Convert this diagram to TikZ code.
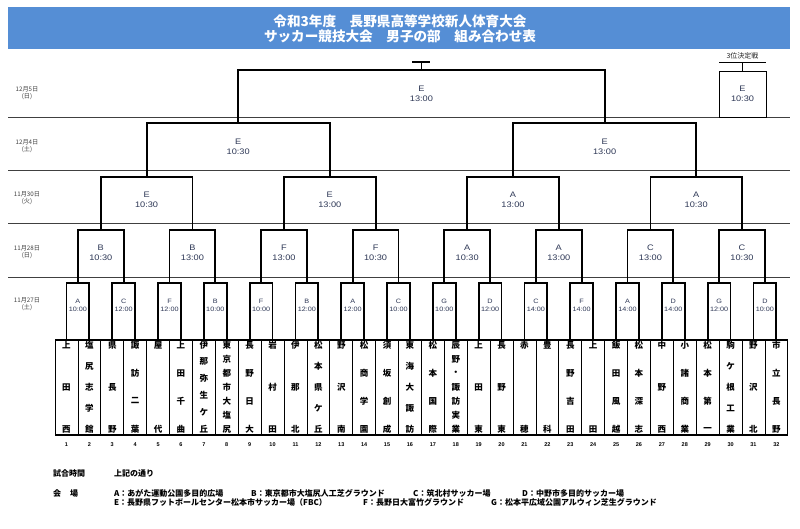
\documentclass[tikz,border=0pt]{standalone}
\usepackage{fontspec}
\setmainfont{Liberation Sans}
\newfontfamily\cjk{Noto Sans CJK JP}
\newfontfamily\lbl{Liberation Sans}[FakeStretch=1.15]
\definecolor{titlebar}{RGB}{85,142,213}
\definecolor{labc}{RGB}{45,55,85}
\tikzset{
  rowline/.style={draw=black!75, line width=0.8pt},
  bracket/.style={draw=black, line width=1.8pt},
  thinline/.style={draw=black, line width=1pt},
  lab/.style={font=\lbl\fontsize{8}{10}\selectfont, text=labc, align=center, inner sep=0pt},
  labs/.style={font=\lbl\fontsize{6.3}{8}\selectfont, text=labc, align=center, inner sep=0pt},
  datel/.style={font=\cjk\fontsize{6.2}{7.2}\selectfont, text=black!75, align=center, inner sep=0pt},
  tname/.style={font=\cjk\bfseries\fontsize{8.5}{9}\selectfont, inner sep=0pt},
  tnum/.style={font=\bfseries\fontsize{5.5}{6}\selectfont, inner sep=0pt},
  foot/.style={font=\cjk\bfseries\fontsize{8}{9}\selectfont, inner sep=0pt, anchor=west},
  thirdbox/.style={draw=black, line width=1pt, minimum width=47pt, minimum height=46pt, lab},
}
\begin{document}
\begin{tikzpicture}[x=1pt,y=-1pt]
\useasboundingbox (0,0) rectangle (800,528);
\fill[white] (0,0) rectangle (800,528);
% title
\fill[titlebar] (8,7) rectangle (790,49);
\node[font=\cjk\bfseries\fontsize{13.6}{15}\selectfont, text=white, align=center, inner sep=0pt] (title) at (400,28.5)
  {令和3年度　長野県高等学校新人体育大会\\サッカー競技大会　男子の部　組み合わせ表};
% row lines
\foreach \yy in {117,170,223,277} { \draw[rowline] (8,\yy) -- (790,\yy); }
% date labels
\node[datel] (d5) at (27,93) {12月5日\\(日)};
\node[datel] (d4) at (27,146.5) {12月4日\\(土)};
\node[datel] (d3) at (27,198) {11月30日\\(火)};
\node[datel] (d2) at (27,252) {11月28日\\(日)};
\node[datel] (d1) at (27,304) {11月27日\\(土)};
% team tops
\foreach \i in {1,...,32} {
  \pgfmathsetmacro\cx{55+(\i-0.5)*22.9}
  \coordinate (t\i) at (\cx,340);
}
% round 1
\foreach \j/\v/\tm in {1/A/10:00,2/C/12:00,3/F/12:00,4/B/10:00,5/F/10:00,6/B/12:00,7/A/12:00,8/C/10:00,
                       9/G/10:00,10/D/12:00,11/C/14:00,12/F/14:00,13/A/14:00,14/D/14:00,15/G/12:00,16/D/10:00} {
  \pgfmathsetmacro\cx{55+(2*\j-1)*22.9}
  \pgfmathtruncatemacro\a{2*\j-1}
  \pgfmathtruncatemacro\b{2*\j}
  \coordinate (m1-\j) at (\cx,283);
  \draw[bracket] (t\a) |- (m1-\j) -| (t\b);
  \node[labs] (l1-\j) at (\cx,305) {\v\\\tm};
}
% round 2
\foreach \j/\v/\tm in {1/B/10:30,2/B/13:00,3/F/13:00,4/F/10:30,5/A/10:30,6/A/13:00,7/C/13:00,8/C/10:30} {
  \pgfmathsetmacro\cx{55+(4*\j-2)*22.9}
  \pgfmathtruncatemacro\a{2*\j-1}
  \pgfmathtruncatemacro\b{2*\j}
  \coordinate (m2-\j) at (\cx,230);
  \draw[bracket] (m1-\a) |- (m2-\j) -| (m1-\b);
  \node[lab] (l2-\j) at (\cx,253) {\v\\\tm};
}
% round 3
\foreach \j/\v/\tm in {1/E/10:30,2/E/13:00,3/A/13:00,4/A/10:30} {
  \pgfmathsetmacro\cx{55+(8*\j-4)*22.9}
  \pgfmathtruncatemacro\a{2*\j-1}
  \pgfmathtruncatemacro\b{2*\j}
  \coordinate (m3-\j) at (\cx,177);
  \draw[bracket] (m2-\a) |- (m3-\j) -| (m2-\b);
  \node[lab] (l3-\j) at (\cx,199.5) {\v\\\tm};
}
% round 4
\foreach \j/\v/\tm in {1/E/10:30,2/E/13:00} {
  \pgfmathsetmacro\cx{55+(16*\j-8)*22.9}
  \pgfmathtruncatemacro\a{2*\j-1}
  \pgfmathtruncatemacro\b{2*\j}
  \coordinate (m4-\j) at (\cx,123);
  \draw[bracket] (m3-\a) |- (m4-\j) -| (m3-\b);
  \node[lab] (l4-\j) at (\cx,147) {\v\\\tm};
}
% final
\coordinate (m5) at (421.4,70);
\draw[bracket] (m4-1) |- (m5) -| (m4-2);
\node[lab] (l5) at (421.4,93.5) {E\\13:00};
\coordinate (win) at (421.4,62);
\draw[bracket] (m5) -- (win);
\draw[bracket] ([xshift=-9pt]win) -- ([xshift=9pt]win);
% third place
\node[thirdbox] (third) at (742.5,94) {E\\10:30};
\coordinate (thirdtop) at (742.5,62);
\draw[thinline] (third.north) -- (thirdtop);
\draw[thinline] (719,62) -- (766,62);
\node[font=\cjk\fontsize{7}{8}\selectfont, text=black!85, inner sep=0pt] (thirdlab) at (742.5,56) {3位決定戦};
% team table
\foreach \k in {1,...,31} {
  \pgfmathsetmacro\cx{55+\k*22.9}
  \draw[black, line width=0.8pt] (\cx,340) -- (\cx,435);
}
\draw[black, line width=0.8pt] (55,340) -- (55,435);
\draw[black, line width=0.8pt] (787.8,340) -- (787.8,435);
\draw[black, line width=1.5pt] (55,340) -- (787.8,340);
\draw[black, line width=1.5pt] (55,435) -- (787.8,435);
% team names
\foreach \i/\n/\nm in {1/3/{上,田,西},2/5/{塩,尻,志,学,館},3/3/{県,長,野},4/4/{諏,訪,二,葉},
  5/2/{屋,代},6/4/{上,田,千,曲},7/6/{伊,那,弥,生,ケ,丘},8/7/{東,京,都,市,大,塩,尻},
  9/4/{長,野,日,大},10/3/{岩,村,田},11/3/{伊,那,北},12/5/{松,本,県,ケ,丘},
  13/3/{野,沢,南},14/4/{松,商,学,園},15/4/{須,坂,創,成},16/5/{東,海,大,諏,訪},
  17/4/{松,本,国,際},18/7/{辰,野,・,諏,訪,実,業},19/3/{上,田,東},20/3/{長,野,東},
  21/2/{赤,穂},22/2/{豊,科},23/4/{長,野,吉,田},24/2/{上,田},
  25/4/{飯,田,風,越},26/4/{松,本,深,志},27/3/{中,野,西},28/4/{小,諸,商,業},
  29/4/{松,本,第,一},30/5/{駒,ケ,根,工,業},31/3/{野,沢,北},32/4/{市,立,長,野}} {
  \pgfmathsetmacro\cx{55+(\i-0.5)*22.9}
  \foreach \ch [count=\k] in \nm {
    \pgfmathsetmacro\yy{345+(\k-1)*84/(\n-1)}
    \node[tname] (n\i-\k) at (\cx,\yy) {\ch};
  }
  \node[tnum] (num\i) at (\cx,445) {\i};
}
% footer
\node[foot] (f1) at (53,473) {試合時間};
\node[foot] (f2) at (114,473) {上記の通り};
\node[foot] (f3) at (53,493) {会\hspace{9pt}場};
\node[foot] (va) at (114,493) {A：あがた運動公園多目的広場};
\node[foot] (vb) at (251,493) {B：東京都市大塩尻人工芝グラウンド};
\node[foot] (vc) at (413,493) {C：筑北村サッカー場};
\node[foot] (vd) at (522,493) {D：中野市多目的サッカー場};
\node[foot] (ve) at (114,502) {E：長野県フットボールセンター松本市サッカー場（FBC）};
\node[foot] (vf) at (363,502) {F：長野日大富竹グラウンド};
\node[foot] (vg) at (491,502) {G：松本平広域公園アルウィン芝生グラウンド};
\end{tikzpicture}
\end{document}
